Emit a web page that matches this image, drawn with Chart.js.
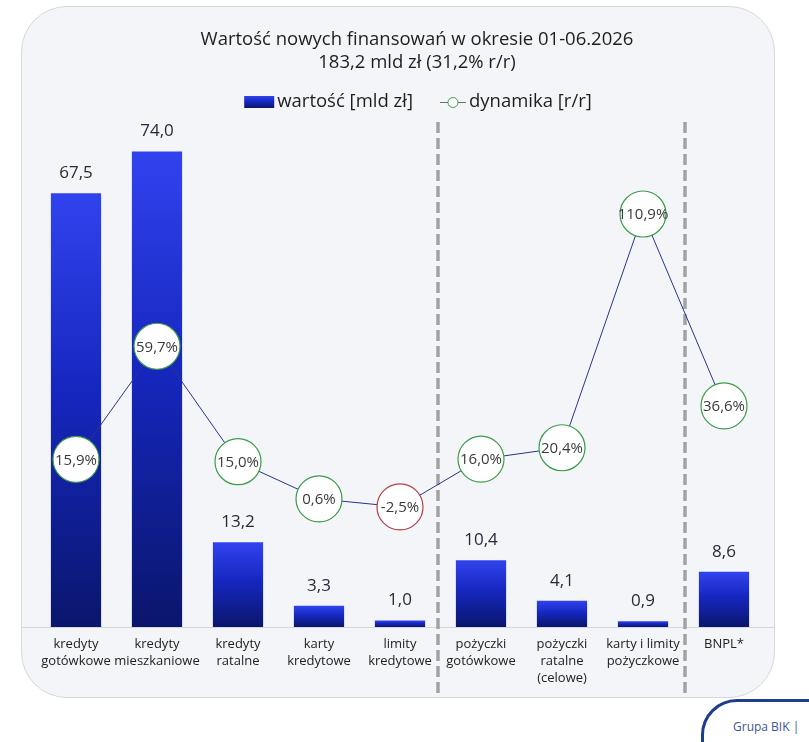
<!DOCTYPE html>
<html lang="pl">
<head>
<meta charset="utf-8">
<title>Wartość nowych finansowań</title>
<script src="https://cdn.jsdelivr.net/npm/chart.js@4.4.1/dist/chart.umd.min.js"></script>
<style>
  html, body { margin: 0; padding: 0; background: #ffffff; }
  body { width: 809px; height: 742px; position: relative; overflow: hidden; font-family: 'Open Sans', sans-serif; }
  #panel {
    position: absolute; left: 21px; top: 6px; width: 754px; height: 692px;
    box-sizing: border-box; border: 1.5px solid #d5d8dc; border-radius: 46px;
    background: #f3f5f8;
  }
  #bik {
    position: absolute; left: 701px; top: 699px; width: 160px; height: 90px;
    box-sizing: border-box; border: 3px solid #1f3d8c; border-radius: 36px;
    background: #ffffff; color: #3a5596; font-size: 12px;
    padding: 16px 0 0 29px;
  }
  #chart { position: absolute; left: 0; top: 0; }
</style>
</head>
<body>
<div id="panel"></div>
<div id="bik">Grupa BIK |</div>
<canvas id="chart" width="809" height="742"></canvas>
<script>
const categories = [
  ['kredyty', 'gotówkowe'],
  ['kredyty', 'mieszkaniowe'],
  ['kredyty', 'ratalne'],
  ['karty', 'kredytowe'],
  ['limity', 'kredytowe'],
  ['pożyczki', 'gotówkowe'],
  ['pożyczki', 'ratalne', '(celowe)'],
  ['karty i limity', 'pożyczkowe'],
  ['BNPL*']
];
const values = [67.5, 74.0, 13.2, 3.3, 1.0, 10.4, 4.1, 0.9, 8.6];
const dynamics = [15.9, 59.7, 15.0, 0.6, -2.5, 16.0, 20.4, 110.9, 36.6];
const groupBreaks = [4, 7];
const titleLines = ['Wartość nowych finansowań w okresie 01-06.2026', '183,2 mld zł (31,2% r/r)'];
const legendLabels = ['wartość [mld zł]', 'dynamika [r/r]'];

const FONT = "'Open Sans', sans-serif";
const fmt = v => v.toFixed(1).replace('.', ',');

function barGradient(ctx, top, base) {
  const g = ctx.createLinearGradient(0, top, 0, base);
  g.addColorStop(0, '#3143ee');
  g.addColorStop(0.45, '#1627c0');
  g.addColorStop(1, '#0a166c');
  return g;
}

const decorations = {
  id: 'decorations',
  beforeDatasetsDraw(chart) {
    const {ctx, chartArea} = chart;
    const x = chart.scales.x;
    ctx.save();
    // baseline
    ctx.strokeStyle = '#d6d7d9';
    ctx.lineWidth = 1;
    ctx.beginPath();
    ctx.moveTo(22, chartArea.bottom + 0.5);
    ctx.lineTo(774, chartArea.bottom + 0.5);
    ctx.stroke();
    // dashed group separators
    ctx.strokeStyle = '#a3a3a3';
    ctx.lineWidth = 3.5;
    ctx.setLineDash([11, 5]);
    const shifts = [-2.5, 1.5];
    groupBreaks.forEach((i, k) => {
      const xp = (x.getPixelForValue(i) + x.getPixelForValue(i + 1)) / 2 + shifts[k];
      ctx.beginPath();
      ctx.moveTo(xp, 122);
      ctx.lineTo(xp, 698);
      ctx.stroke();
    });
    ctx.restore();
  },
  afterDatasetsDraw(chart) {
    const {ctx} = chart;
    ctx.save();
    ctx.textAlign = 'center';
    ctx.textBaseline = 'middle';
    const bars = chart.getDatasetMeta(1).data;
    ctx.font = '17px ' + FONT;
    ctx.fillStyle = '#262a3a';
    bars.forEach((b, i) => ctx.fillText(fmt(values[i]), b.x, b.y - 20));
    const pts = chart.getDatasetMeta(0).data;
    ctx.font = '15px ' + FONT;
    ctx.fillStyle = '#3a3a3a';
    pts.forEach((p, i) => ctx.fillText(fmt(dynamics[i]) + '%', p.x, p.y + 1));
    ctx.restore();
  },
  afterDraw(chart) {
    const {ctx} = chart;
    ctx.save();
    ctx.fillStyle = '#1e1e1e';
    ctx.textBaseline = 'middle';
    ctx.textAlign = 'center';
    ctx.font = '18.5px ' + FONT;
    ctx.fillText(titleLines[0], 417, 40);
    ctx.fillText(titleLines[1], 417, 63);

    // legend
    ctx.font = '18.5px ' + FONT;
    ctx.textAlign = 'left';
    const w1 = ctx.measureText(legendLabels[0]).width;
    const w2 = ctx.measureText(legendLabels[1]).width;
    const total = 30 + 3 + w1 + 27 + 26 + 3 + w2;
    let lx = 418 - total / 2;
    const ly = 102;
    ctx.fillStyle = barGradient(ctx, ly - 6, ly + 6);
    ctx.fillRect(lx, ly - 6, 30, 12);
    lx += 33;
    ctx.fillStyle = '#1e1e1e';
    ctx.fillText(legendLabels[0], lx, ly);
    lx += w1 + 27;
    ctx.strokeStyle = '#5f7a66';
    ctx.lineWidth = 1;
    ctx.beginPath();
    ctx.moveTo(lx, ly + 0.5);
    ctx.lineTo(lx + 26, ly + 0.5);
    ctx.stroke();
    ctx.beginPath();
    ctx.arc(lx + 13, ly + 0.5, 5, 0, Math.PI * 2);
    ctx.fillStyle = '#ffffff';
    ctx.fill();
    ctx.strokeStyle = '#3c9c48';
    ctx.stroke();
    lx += 29;
    ctx.fillStyle = '#1e1e1e';
    ctx.fillText(legendLabels[1], lx, ly);
    ctx.restore();
  }
};

const ctx = document.getElementById('chart');
new Chart(ctx, {
  data: {
    labels: categories,
    datasets: [
      {
        type: 'line',
        label: legendLabels[1],
        data: dynamics,
        yAxisID: 'y2',
        order: 0,
        borderColor: '#27348b',
        borderWidth: 1,
        pointRadius: 23,
        pointHoverRadius: 23,
        pointBackgroundColor: '#ffffff',
        pointBorderColor: c => (c.raw < 0 ? '#b3404a' : '#3c9c48'),
        pointBorderWidth: 1.2,
        clip: false
      },
      {
        type: 'bar',
        label: legendLabels[0],
        data: values,
        yAxisID: 'y',
        order: 1,
        barPercentage: 0.62,
        categoryPercentage: 1.0,
        backgroundColor: c => {
          const chart = c.chart;
          if (!chart.chartArea || c.type !== 'data') return '#1627c0';
          const y = chart.scales.y;
          return barGradient(chart.ctx, y.getPixelForValue(c.raw), y.getPixelForValue(0));
        }
      }
    ]
  },
  options: {
    responsive: false,
    animation: false,
    events: [],
    layout: { padding: { left: 35.5, right: 44.5, top: 113, bottom: 0 } },
    plugins: {
      legend: { display: false },
      title: { display: false },
      tooltip: { enabled: false }
    },
    scales: {
      x: {
        grid: { display: false, drawTicks: false },
        border: { display: false },
        ticks: {
          color: '#222222',
          padding: 9,
          maxRotation: 0,
          autoSkip: false,
          font: { family: FONT, size: 13, lineHeight: 1.3 }
        },
        afterFit(scale) { scale.height = 115; }
      },
      y: { display: false, min: 0, max: 80 },
      y2: { display: false, position: 'right', min: -49, max: 150 }
    }
  },
  plugins: [decorations]
});
</script>
</body>
</html>
